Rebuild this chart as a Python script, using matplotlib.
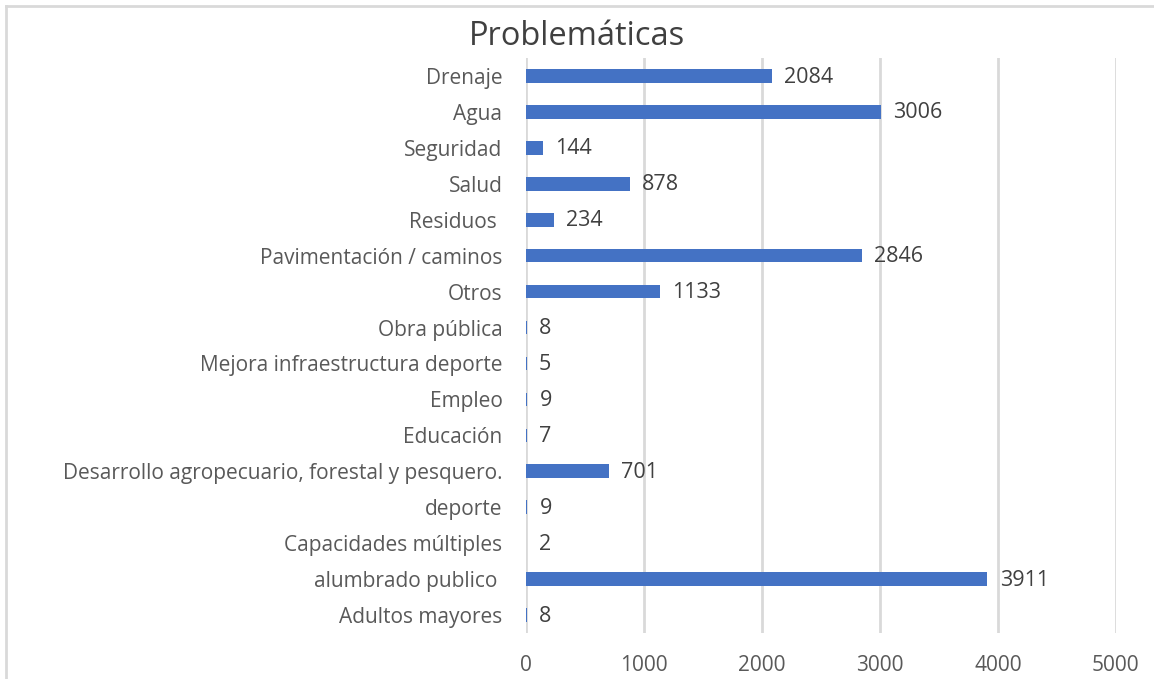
import matplotlib.pyplot as plt
from matplotlib.lines import Line2D

categorias = ["Drenaje", "Agua", "Seguridad", "Salud", "Residuos ",
              "Pavimentación / caminos", "Otros", "Obra pública",
              "Mejora infraestructura deporte", "Empleo", "Educación",
              "Desarrollo agropecuario, forestal y pesquero.", "deporte",
              "Capacidades múltiples", "alumbrado publico ", "Adultos mayores"]
valores = [2084, 3006, 144, 878, 234, 2846, 1133, 8, 5, 9, 7, 701, 9, 2, 3911, 8]
ticks_x = [0, 1000, 2000, 3000, 4000, 5000]

plt.rcParams['font.family'] = ['Open Sans', 'DejaVu Sans']

fig = plt.figure(figsize=(11.54, 6.79), dpi=100)
ax = fig.add_axes([0.4558, 0.0677, 0.5112, 0.8469])

pos = list(range(len(categorias)))
ax.barh(pos, valores, height=0.38, color='#4472C4', zorder=3)
for p, v in zip(pos, valores):
    ax.text(v + 105, p + 0.03, str(v), va='center', ha='left', fontsize=15.5, color='#404040')

ax.set_ylim(len(categorias) - 0.5, -0.5)
ax.set_xlim(0, 5000)
ax.set_yticks(pos)
ax.set_yticklabels(categorias, fontsize=15, color='#595959')
ax.set_xticks(ticks_x)
ax.set_xticklabels([str(t) for t in ticks_x], fontsize=15, color='#595959')
ax.tick_params(axis='both', length=0)
ax.tick_params(axis='x', pad=16)
ax.tick_params(axis='y', pad=17)
ax.grid(axis='x', color='#d9d9d9', linewidth=2, zorder=0)
for s in ax.spines.values():
    s.set_visible(False)

fig.text(0.5, 0.946, "Problemáticas", ha='center', va='center', fontsize=23.5, color='#404040')

# borde del gráfico
fig.add_artist(Line2D([0.0052, 1.0], [0.9912, 0.9912], transform=fig.transFigure, color='#d9d9d9', linewidth=2))
fig.add_artist(Line2D([0.0052, 0.0052], [0.0, 0.9912], transform=fig.transFigure, color='#d9d9d9', linewidth=2))

fig.savefig("out.png", dpi=100)
